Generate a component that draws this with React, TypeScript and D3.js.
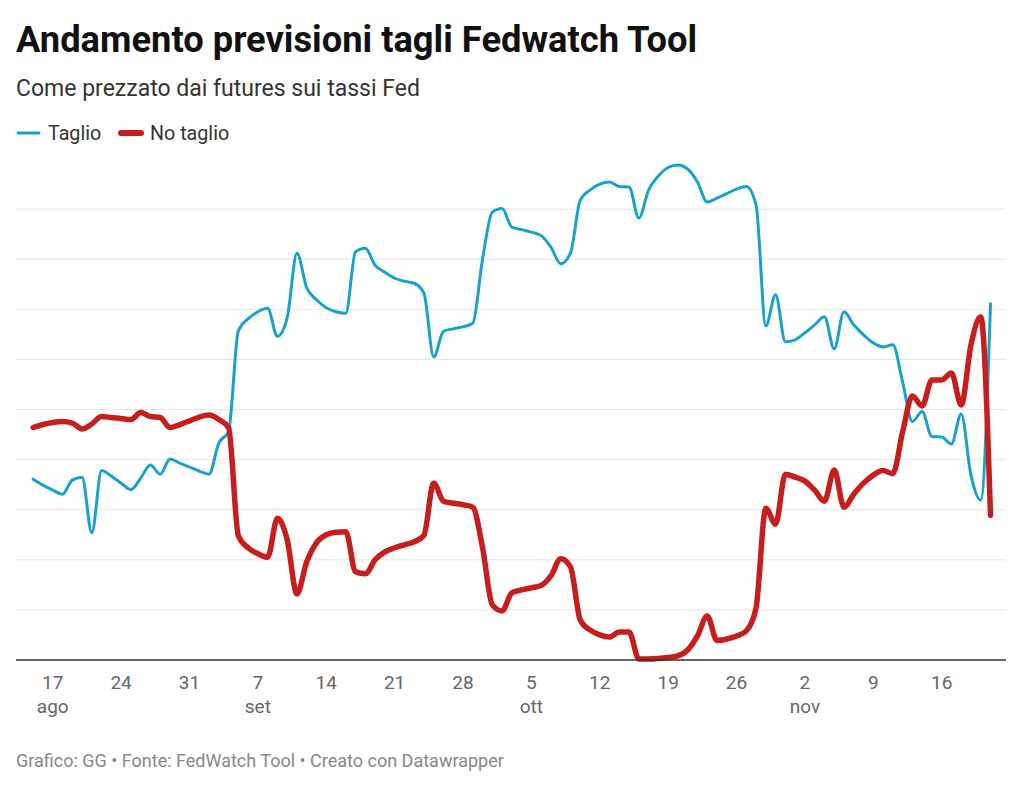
import React from "react";
import * as d3 from "d3";

const startDate = new Date(2025, 7, 15);
const endDate = new Date(2025, 10, 21);
const dates: Date[] = d3.timeDay.range(startDate, d3.timeDay.offset(endDate, 1));

// Taglio (blue), daily Aug 15 – Nov 21
const taglio: number[] = [
  // Aug 15-31
  36.1, 34.9, 33.9, 33.1, 35.9, 36.5, 25.4, 37.8, 36.7, 35.3, 34.0, 36.3, 38.9, 37.1, 40.1, 39.3, 38.5,
  // Sep
  37.7, 37.1, 43.3, 45.6, 65.7, 68.1, 69.5, 70.2, 64.6, 68.3, 81.2, 74.3, 71.9, 70.3, 69.5, 69.2, 81.5, 82.2, 78.8, 77.4,
  76.2, 75.6, 75.2, 73.2, 60.5, 65.6, 66.1, 66.5, 67.2, 80.0,
  // Oct
  89.4, 90.1, 86.4, 85.9, 85.4, 84.7, 82.4, 79.1, 81.2, 91.8, 93.8, 95.0, 95.4, 94.5, 94.4, 88.2, 93.8, 96.6, 98.3, 98.8,
  98.0, 95.4, 91.4, 92.2, 93.1, 94.0, 94.5, 90.8, 66.7, 72.9, 63.5,
  // Nov 1-21
  63.9, 65.3, 66.9, 68.5, 62.1, 69.5, 66.9, 64.9, 63.3, 62.5, 62.9, 55.5, 47.6, 49.6, 44.6, 44.5, 43.1, 49.1, 36.9, 31.9, 71.1,
];

// No taglio (red)
const noTaglio: number[] = [
  // Aug 15-31
  46.4, 47.0, 47.4, 47.6, 47.3, 46.1, 47.1, 48.6, 48.4, 48.2, 48.0, 49.4, 48.6, 48.4, 46.4, 47.0, 47.7,
  // Sep
  48.5, 48.9, 48.0, 46.4, 24.8, 22.4, 21.2, 20.5, 28.3, 24.0, 13.2, 19.6, 23.4, 25.0, 25.5, 25.6, 17.6, 17.2, 20.0, 21.6,
  22.4, 23.0, 23.6, 24.9, 35.3, 31.7, 31.3, 31.0, 30.5, 22.4,
  // Oct
  11.0, 9.8, 13.4, 14.0, 14.4, 14.9, 16.8, 20.2, 18.6, 8.0, 6.0, 5.0, 4.6, 5.6, 5.6, 0.2, 0.2, 0.3, 0.5, 0.8,
  2.0, 4.8, 8.8, 3.9, 4.2, 4.8, 5.8, 10.4, 30.3, 27.1, 37.1,
  // Nov 1-21
  36.5, 35.7, 33.9, 31.7, 37.9, 30.5, 33.1, 35.3, 36.9, 37.8, 37.2, 45.5, 52.7, 50.7, 55.9, 55.9, 57.3, 50.9, 62.9, 68.5, 28.9,
];

const gridValues: number[] = [10, 20, 30, 40, 50, 60, 70, 80, 90];
const tickDates: Date[] = d3.timeWeek.range(new Date(2025, 7, 17), new Date(2025, 10, 17));
const monthNames: string[] = ["gen", "feb", "mar", "apr", "mag", "giu", "lug", "ago", "set", "ott", "nov", "dic"];

const series = [
  { name: "Taglio", values: taglio, color: "#18a1cd", width: 3 },
  { name: "No taglio", values: noTaglio, color: "#c71e1d", width: 5.5 },
];

const FONT = "Roboto, 'Noto Sans', sans-serif";

export default function App() {
  const W = 1024;
  const H = 789;
  const plotLeft = 16;
  const plotRight = 1006;
  const x = d3.scaleTime().domain([startDate, endDate]).range([33.2, 990.5]);
  const y = d3.scaleLinear().domain([0, 100]).range([660, 159]);

  const line = d3
    .line<number>()
    .x((_, i) => x(dates[i]))
    .y((v) => y(v))
    .curve(d3.curveMonotoneX);

  const seenMonths = new Set<number>();

  return (
    <svg
      width={W}
      height={H}
      style={{ position: "absolute", left: 0, top: 0, background: "#fff" }}
      fontFamily={FONT}
    >
      <rect x={0} y={0} width={W} height={H} fill="#fff" />
      <text x={16} y={52} fontSize={36.3} fontWeight={700} fill="#111">
        Andamento previsioni tagli Fedwatch Tool
      </text>
      <text x={16} y={96} fontSize={23} fill="#333">
        Come prezzato dai futures sui tassi Fed
      </text>

      {/* legend */}
      <line x1={18} x2={39} y1={133} y2={133} stroke={series[0].color} strokeWidth={3} strokeLinecap="round" />
      <text x={48} y={140} fontSize={19.7} fill="#333">
        {series[0].name}
      </text>
      <line x1={121} x2={141} y1={133} y2={133} stroke={series[1].color} strokeWidth={6} strokeLinecap="round" />
      <text x={150} y={140} fontSize={19.7} fill="#333">
        {series[1].name}
      </text>

      {/* grid */}
      {gridValues.map((g) => (
        <line key={g} x1={plotLeft} x2={plotRight} y1={y(g)} y2={y(g)} stroke="#e5e5e5" strokeWidth={1} />
      ))}

      {/* lines */}
      {series.map((s) => (
        <path
          key={s.name}
          d={line(s.values) || ""}
          fill="none"
          stroke={s.color}
          strokeWidth={s.width}
          strokeLinejoin="round"
          strokeLinecap="round"
        />
      ))}

      {/* baseline */}
      <line x1={plotLeft} x2={plotRight} y1={y(0)} y2={y(0)} stroke="#333" strokeWidth={1.5} />

      {/* x ticks */}
      {tickDates.map((d, i) => {
        const m = d.getMonth();
        const showMonth = !seenMonths.has(m);
        seenMonths.add(m);
        return (
          <g key={i}>
            <text x={x(d)} y={688.5} fontSize={19} fill="#666" textAnchor="middle">
              {d.getDate()}
            </text>
            {showMonth && (
              <text x={x(d)} y={713} fontSize={19} fill="#666" textAnchor="middle">
                {monthNames[m]}
              </text>
            )}
          </g>
        );
      })}

      <text x={16} y={767} fontSize={18} fill="#888">
        Grafico: GG • Fonte: FedWatch Tool • Creato con Datawrapper
      </text>
    </svg>
  );
}
